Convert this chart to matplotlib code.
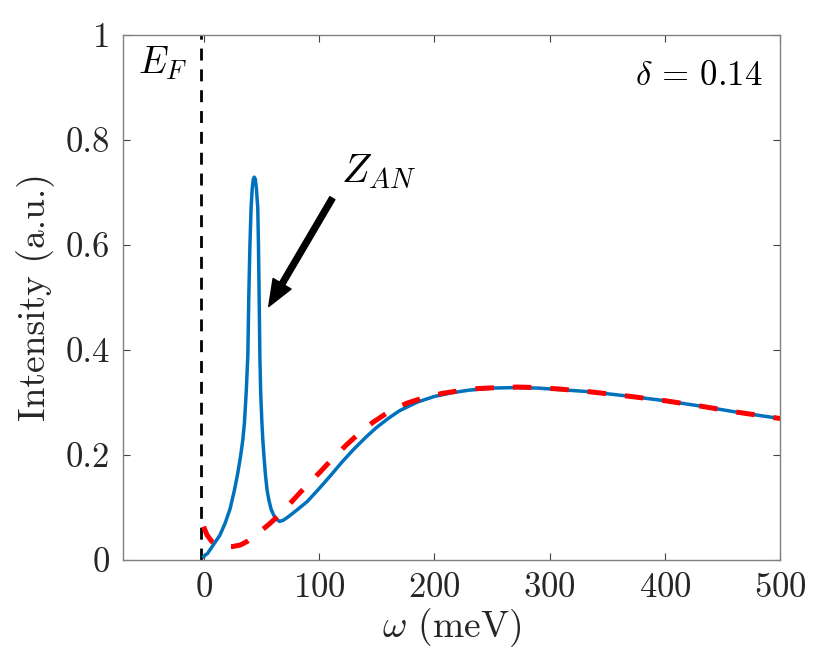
import numpy as np
import matplotlib
matplotlib.use('Agg')
import matplotlib.pyplot as plt

plt.rcParams['font.family'] = 'cmr10'
plt.rcParams['mathtext.fontset'] = 'cm'
plt.rcParams['axes.formatter.use_mathtext'] = True

# full spectrum (blue)
w_full = [0, 3.5, 9.3, 14, 18.6, 23, 26.7, 29.5, 32.0, 34, 35.4, 37.0, 38.4, 39.2,
          40.2, 41.2, 42.2, 43.1, 44.0, 44.9, 45.8, 47.0, 47.6, 48.2, 48.8, 49.5,
          50.6, 51.4, 52.4, 53.6, 55.1, 56.8, 58.6, 61, 63.5, 65.8, 69, 73, 80, 90,
          100, 110, 120, 130, 141, 150, 160, 170, 185, 200, 215, 230, 250, 270, 290,
          310, 335, 367, 400, 430, 460, 500]
I_full = [0.006, 0.012, 0.031, 0.046, 0.069, 0.097, 0.132, 0.163, 0.196, 0.228, 0.260,
          0.320, 0.390, 0.500, 0.600, 0.670, 0.708, 0.725, 0.729, 0.725, 0.708, 0.670,
          0.600, 0.500, 0.390, 0.320, 0.260, 0.228, 0.196, 0.163, 0.132, 0.112, 0.096,
          0.084, 0.077, 0.073, 0.075, 0.081, 0.093, 0.111, 0.135, 0.160, 0.186, 0.210,
          0.234, 0.252, 0.269, 0.284, 0.300, 0.311, 0.318, 0.323, 0.327, 0.328, 0.327,
          0.324, 0.320, 0.312, 0.303, 0.293, 0.282, 0.269]

# incoherent part (red dashed)
w_inc = [0, 3, 7, 12, 18, 25, 32, 38, 45, 52, 57, 62, 70, 77, 85, 93, 101, 112, 124,
         135, 147, 160, 176, 190, 207, 222, 237, 255, 272, 290, 310, 335, 367, 400,
         430, 460, 500]
I_inc = [0.063, 0.047, 0.035, 0.028, 0.025, 0.025, 0.028, 0.035, 0.046, 0.059, 0.068,
         0.078, 0.095, 0.112, 0.131, 0.149, 0.167, 0.193, 0.219, 0.241, 0.262, 0.281,
         0.298, 0.308, 0.317, 0.322, 0.326, 0.328, 0.329, 0.328, 0.325, 0.320, 0.312,
         0.303, 0.293, 0.282, 0.269]

E_F = -2
xticks = [0, 100, 200, 300, 400, 500]
yticks = [0, 0.2, 0.4, 0.6, 0.8, 1]
yticklabels = ['0', '0.2', '0.4', '0.6', '0.8', '1']

fig = plt.figure(figsize=(8.3, 6.6), dpi=100)
ax = fig.add_axes([0.148, 0.152, 0.792, 0.795])

ax.axvline(E_F, color='k', lw=2, dashes=(4.3, 3.2))
ax.plot(w_full, I_full, color='#0072BD', lw=2.5)
ax.plot(w_inc, I_inc, color='#FF0000', lw=3.6, dashes=(3.7, 3.8))

ax.set_xlim(-70, 500)
ax.set_ylim(0, 1)
ax.set_xticks(xticks)
ax.set_yticks(yticks)
ax.set_yticklabels(yticklabels)
ax.tick_params(direction='in', top=True, right=True, length=5, width=0.8,
               color='0.25', labelsize=25, labelcolor='#262626', pad=9)
for s in ax.spines.values():
    s.set_color('0.5')
    s.set_linewidth(1)

ax.set_xlabel(r'$\omega$ (meV)', fontsize=27, color='#262626', labelpad=2)
ax.set_ylabel('Intensity (a.u.)', fontsize=27, color='#262626', labelpad=8)

ax.text(-57, 0.926, r'$E_F$', fontsize=27, va='baseline', ha='left')
ax.text(485, 0.904, r'$\delta\,=\,0.14$', fontsize=25, va='baseline', ha='right')
ax.text(119.5, 0.72, r'$Z_{AN}$', fontsize=29, va='baseline', ha='left')
ax.annotate('', xy=(56.5, 0.4825), xytext=(111.7, 0.689),
            arrowprops=dict(facecolor='k', edgecolor='k', width=4.2, headwidth=15,
                            headlength=19, shrink=0))

fig.savefig('out.png', dpi=100)
